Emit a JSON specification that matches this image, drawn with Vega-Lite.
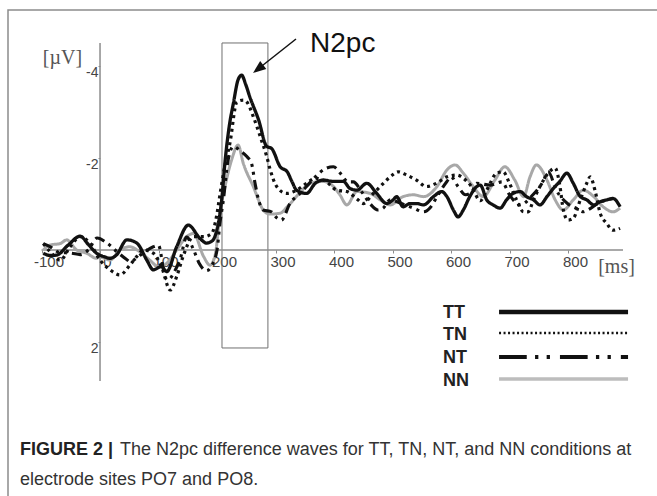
{
  "$schema": "https://vega.github.io/schema/vega-lite/v6.json",
  "width": 660,
  "height": 500,
  "autosize": {"type": "none"},
  "padding": {"left": 8, "top": 10, "right": 0, "bottom": 0},
  "background": "white",
  "config": {
    "font": "Liberation Sans",
    "view": {"stroke": "#8c8c8c", "strokeWidth": 1.5}
  },
  "datasets": {
    "one": [{}],
    "waves": [
      {"cond":"NN","ms":-97,"uv":0.0},{"cond":"NN","ms":-85,"uv":-0.11},{"cond":"NN","ms":-68,"uv":-0.14},{"cond":"NN","ms":-57,"uv":-0.22},{"cond":"NN","ms":-40,"uv":0.0},{"cond":"NN","ms":-23,"uv":0.07},{"cond":"NN","ms":-6,"uv":0.18},{"cond":"NN","ms":0,"uv":0.15},{"cond":"NN","ms":17,"uv":0.22},{"cond":"NN","ms":34,"uv":0.0},{"cond":"NN","ms":51,"uv":-0.07},{"cond":"NN","ms":68,"uv":0.04},{"cond":"NN","ms":85,"uv":0.22},{"cond":"NN","ms":100,"uv":0.36},{"cond":"NN","ms":114,"uv":0.29},{"cond":"NN","ms":131,"uv":0.0},{"cond":"NN","ms":148,"uv":-0.29},{"cond":"NN","ms":160,"uv":-0.36},{"cond":"NN","ms":177,"uv":0.14},{"cond":"NN","ms":188,"uv":0.33},{"cond":"NN","ms":197,"uv":0.1},{"cond":"NN","ms":205,"uv":-0.8},{"cond":"NN","ms":214,"uv":-1.4},{"cond":"NN","ms":225,"uv":-1.96},{"cond":"NN","ms":236,"uv":-2.28},{"cond":"NN","ms":245,"uv":-1.88},{"cond":"NN","ms":262,"uv":-1.38},{"cond":"NN","ms":279,"uv":-0.87},{"cond":"NN","ms":290,"uv":-0.78},{"cond":"NN","ms":308,"uv":-0.8},{"cond":"NN","ms":320,"uv":-0.94},{"cond":"NN","ms":342,"uv":-1.25},{"cond":"NN","ms":359,"uv":-1.45},{"cond":"NN","ms":382,"uv":-1.49},{"cond":"NN","ms":399,"uv":-1.38},{"cond":"NN","ms":410,"uv":-1.2},{"cond":"NN","ms":422,"uv":-0.98},{"cond":"NN","ms":439,"uv":-1.27},{"cond":"NN","ms":462,"uv":-1.23},{"cond":"NN","ms":479,"uv":-1.09},{"cond":"NN","ms":496,"uv":-0.98},{"cond":"NN","ms":518,"uv":-1.16},{"cond":"NN","ms":536,"uv":-1.2},{"cond":"NN","ms":553,"uv":-1.16},{"cond":"NN","ms":576,"uv":-1.38},{"cond":"NN","ms":593,"uv":-1.74},{"cond":"NN","ms":607,"uv":-1.85},{"cond":"NN","ms":621,"uv":-1.67},{"cond":"NN","ms":638,"uv":-1.38},{"cond":"NN","ms":655,"uv":-1.16},{"cond":"NN","ms":675,"uv":-1.52},{"cond":"NN","ms":692,"uv":-1.81},{"cond":"NN","ms":709,"uv":-1.52},{"cond":"NN","ms":724,"uv":-1.16},{"cond":"NN","ms":735,"uv":-1.59},{"cond":"NN","ms":746,"uv":-1.85},{"cond":"NN","ms":764,"uv":-1.52},{"cond":"NN","ms":778,"uv":-1.09},{"cond":"NN","ms":792,"uv":-0.87},{"cond":"NN","ms":809,"uv":-1.09},{"cond":"NN","ms":826,"uv":-1.3},{"cond":"NN","ms":844,"uv":-1.16},{"cond":"NN","ms":860,"uv":-0.94},{"cond":"NN","ms":877,"uv":-0.83},{"cond":"NN","ms":889,"uv":-0.91},
      {"cond":"NT","ms":-97,"uv":-0.14},{"cond":"NT","ms":-85,"uv":-0.07},{"cond":"NT","ms":-70,"uv":0.05},{"cond":"NT","ms":-48,"uv":0.07},{"cond":"NT","ms":-34,"uv":0.1},{"cond":"NT","ms":-20,"uv":0.0},{"cond":"NT","ms":-5,"uv":-0.26},{"cond":"NT","ms":12,"uv":-0.15},{"cond":"NT","ms":30,"uv":0.05},{"cond":"NT","ms":45,"uv":0.2},{"cond":"NT","ms":51,"uv":0.25},{"cond":"NT","ms":70,"uv":0.1},{"cond":"NT","ms":91,"uv":-0.07},{"cond":"NT","ms":100,"uv":-0.1},{"cond":"NT","ms":111,"uv":0.58},{"cond":"NT","ms":116,"uv":0.65},{"cond":"NT","ms":128,"uv":0.45},{"cond":"NT","ms":137,"uv":0.2},{"cond":"NT","ms":148,"uv":-0.28},{"cond":"NT","ms":160,"uv":0.0},{"cond":"NT","ms":170,"uv":0.3},{"cond":"NT","ms":182,"uv":0.45},{"cond":"NT","ms":190,"uv":0.36},{"cond":"NT","ms":200,"uv":0.0},{"cond":"NT","ms":205,"uv":-0.58},{"cond":"NT","ms":211,"uv":-1.1},{"cond":"NT","ms":219,"uv":-1.96},{"cond":"NT","ms":228,"uv":-2.25},{"cond":"NT","ms":240,"uv":-2.15},{"cond":"NT","ms":251,"uv":-2.03},{"cond":"NT","ms":259,"uv":-1.88},{"cond":"NT","ms":265,"uv":-1.45},{"cond":"NT","ms":271,"uv":-1.09},{"cond":"NT","ms":279,"uv":-0.87},{"cond":"NT","ms":293,"uv":-0.83},{"cond":"NT","ms":302,"uv":-0.7},{"cond":"NT","ms":310,"uv":-0.65},{"cond":"NT","ms":325,"uv":-1.02},{"cond":"NT","ms":342,"uv":-1.23},{"cond":"NT","ms":353,"uv":-1.38},{"cond":"NT","ms":368,"uv":-1.59},{"cond":"NT","ms":387,"uv":-1.78},{"cond":"NT","ms":399,"uv":-1.81},{"cond":"NT","ms":412,"uv":-1.65},{"cond":"NT","ms":424,"uv":-1.48},{"cond":"NT","ms":433,"uv":-1.48},{"cond":"NT","ms":447,"uv":-1.27},{"cond":"NT","ms":462,"uv":-1.0},{"cond":"NT","ms":475,"uv":-0.87},{"cond":"NT","ms":484,"uv":-0.91},{"cond":"NT","ms":496,"uv":-1.09},{"cond":"NT","ms":513,"uv":-1.02},{"cond":"NT","ms":536,"uv":-0.91},{"cond":"NT","ms":553,"uv":-0.83},{"cond":"NT","ms":565,"uv":-0.93},{"cond":"NT","ms":576,"uv":-1.16},{"cond":"NT","ms":593,"uv":-1.49},{"cond":"NT","ms":600,"uv":-1.59},{"cond":"NT","ms":612,"uv":-1.38},{"cond":"NT","ms":625,"uv":-1.2},{"cond":"NT","ms":636,"uv":-1.27},{"cond":"NT","ms":644,"uv":-1.45},{"cond":"NT","ms":667,"uv":-1.41},{"cond":"NT","ms":687,"uv":-1.48},{"cond":"NT","ms":700,"uv":-1.2},{"cond":"NT","ms":718,"uv":-0.98},{"cond":"NT","ms":740,"uv":-1.2},{"cond":"NT","ms":757,"uv":-1.48},{"cond":"NT","ms":766,"uv":-1.7},{"cond":"NT","ms":780,"uv":-1.3},{"cond":"NT","ms":800,"uv":-1.0},{"cond":"NT","ms":815,"uv":-0.9},{"cond":"NT","ms":826,"uv":-0.83},{"cond":"NT","ms":834,"uv":-0.87},{"cond":"NT","ms":850,"uv":-1.0},{"cond":"NT","ms":866,"uv":-1.09},{"cond":"NT","ms":883,"uv":-1.12},
      {"cond":"TN","ms":-97,"uv":-0.14},{"cond":"TN","ms":-85,"uv":0.04},{"cond":"TN","ms":-68,"uv":0.22},{"cond":"TN","ms":-51,"uv":-0.07},{"cond":"TN","ms":-34,"uv":-0.29},{"cond":"TN","ms":-17,"uv":-0.14},{"cond":"TN","ms":0,"uv":0.22},{"cond":"TN","ms":17,"uv":0.43},{"cond":"TN","ms":34,"uv":0.54},{"cond":"TN","ms":51,"uv":0.33},{"cond":"TN","ms":63,"uv":0.14},{"cond":"TN","ms":74,"uv":0.0},{"cond":"TN","ms":91,"uv":0.07},{"cond":"TN","ms":105,"uv":0.36},{"cond":"TN","ms":120,"uv":0.87},{"cond":"TN","ms":131,"uv":0.58},{"cond":"TN","ms":142,"uv":0.14},{"cond":"TN","ms":160,"uv":-0.29},{"cond":"TN","ms":177,"uv":-0.29},{"cond":"TN","ms":191,"uv":-0.36},{"cond":"TN","ms":199,"uv":-0.72},{"cond":"TN","ms":205,"uv":-1.2},{"cond":"TN","ms":213,"uv":-1.8},{"cond":"TN","ms":222,"uv":-2.32},{"cond":"TN","ms":234,"uv":-3.22},{"cond":"TN","ms":245,"uv":-3.26},{"cond":"TN","ms":252,"uv":-3.2},{"cond":"TN","ms":262,"uv":-2.9},{"cond":"TN","ms":274,"uv":-2.46},{"cond":"TN","ms":285,"uv":-2.03},{"cond":"TN","ms":291,"uv":-1.74},{"cond":"TN","ms":302,"uv":-1.38},{"cond":"TN","ms":319,"uv":-1.23},{"cond":"TN","ms":336,"uv":-1.3},{"cond":"TN","ms":353,"uv":-1.45},{"cond":"TN","ms":368,"uv":-1.56},{"cond":"TN","ms":385,"uv":-1.5},{"cond":"TN","ms":405,"uv":-1.3},{"cond":"TN","ms":422,"uv":-1.27},{"cond":"TN","ms":440,"uv":-1.1},{"cond":"TN","ms":450,"uv":-1.01},{"cond":"TN","ms":465,"uv":-1.2},{"cond":"TN","ms":479,"uv":-1.38},{"cond":"TN","ms":496,"uv":-1.59},{"cond":"TN","ms":510,"uv":-1.7},{"cond":"TN","ms":524,"uv":-1.63},{"cond":"TN","ms":541,"uv":-1.52},{"cond":"TN","ms":558,"uv":-1.38},{"cond":"TN","ms":575,"uv":-1.45},{"cond":"TN","ms":593,"uv":-1.59},{"cond":"TN","ms":610,"uv":-1.63},{"cond":"TN","ms":621,"uv":-1.56},{"cond":"TN","ms":635,"uv":-1.38},{"cond":"TN","ms":650,"uv":-1.07},{"cond":"TN","ms":661,"uv":-1.3},{"cond":"TN","ms":678,"uv":-1.67},{"cond":"TN","ms":689,"uv":-1.7},{"cond":"TN","ms":700,"uv":-1.45},{"cond":"TN","ms":712,"uv":-1.09},{"cond":"TN","ms":724,"uv":-0.83},{"cond":"TN","ms":732,"uv":-0.83},{"cond":"TN","ms":741,"uv":-1.09},{"cond":"TN","ms":752,"uv":-1.38},{"cond":"TN","ms":765,"uv":-1.65},{"cond":"TN","ms":778,"uv":-1.78},{"cond":"TN","ms":786,"uv":-1.4},{"cond":"TN","ms":792,"uv":-0.87},{"cond":"TN","ms":800,"uv":-0.65},{"cond":"TN","ms":809,"uv":-0.69},{"cond":"TN","ms":821,"uv":-1.09},{"cond":"TN","ms":832,"uv":-1.45},{"cond":"TN","ms":838,"uv":-1.59},{"cond":"TN","ms":846,"uv":-1.3},{"cond":"TN","ms":855,"uv":-0.8},{"cond":"TN","ms":866,"uv":-0.58},{"cond":"TN","ms":877,"uv":-0.43},{"cond":"TN","ms":889,"uv":-0.47},
      {"cond":"TT","ms":-97,"uv":0.07},{"cond":"TT","ms":-85,"uv":0.12},{"cond":"TT","ms":-74,"uv":0.11},{"cond":"TT","ms":-55,"uv":-0.1},{"cond":"TT","ms":-34,"uv":-0.3},{"cond":"TT","ms":-20,"uv":-0.12},{"cond":"TT","ms":-6,"uv":0.07},{"cond":"TT","ms":8,"uv":0.15},{"cond":"TT","ms":17,"uv":0.18},{"cond":"TT","ms":28,"uv":0.11},{"cond":"TT","ms":46,"uv":-0.22},{"cond":"TT","ms":63,"uv":-0.15},{"cond":"TT","ms":80,"uv":0.22},{"cond":"TT","ms":91,"uv":0.43},{"cond":"TT","ms":105,"uv":0.36},{"cond":"TT","ms":114,"uv":0.47},{"cond":"TT","ms":131,"uv":-0.07},{"cond":"TT","ms":151,"uv":-0.54},{"cond":"TT","ms":171,"uv":-0.25},{"cond":"TT","ms":182,"uv":-0.15},{"cond":"TT","ms":192,"uv":-0.2},{"cond":"TT","ms":199,"uv":-0.4},{"cond":"TT","ms":208,"uv":-1.09},{"cond":"TT","ms":214,"uv":-1.96},{"cond":"TT","ms":221,"uv":-2.7},{"cond":"TT","ms":228,"uv":-3.19},{"cond":"TT","ms":236,"uv":-3.7},{"cond":"TT","ms":242,"uv":-3.8},{"cond":"TT","ms":249,"uv":-3.6},{"cond":"TT","ms":256,"uv":-3.33},{"cond":"TT","ms":271,"uv":-2.83},{"cond":"TT","ms":285,"uv":-2.25},{"cond":"TT","ms":293,"uv":-2.21},{"cond":"TT","ms":308,"uv":-1.81},{"cond":"TT","ms":320,"uv":-1.7},{"cond":"TT","ms":328,"uv":-1.49},{"cond":"TT","ms":336,"uv":-1.3},{"cond":"TT","ms":353,"uv":-1.23},{"cond":"TT","ms":368,"uv":-1.45},{"cond":"TT","ms":382,"uv":-1.52},{"cond":"TT","ms":399,"uv":-1.49},{"cond":"TT","ms":416,"uv":-1.49},{"cond":"TT","ms":427,"uv":-1.34},{"cond":"TT","ms":439,"uv":-1.3},{"cond":"TT","ms":456,"uv":-1.45},{"cond":"TT","ms":473,"uv":-1.23},{"cond":"TT","ms":490,"uv":-1.01},{"cond":"TT","ms":501,"uv":-1.09},{"cond":"TT","ms":507,"uv":-1.16},{"cond":"TT","ms":518,"uv":-0.94},{"cond":"TT","ms":530,"uv":-1.01},{"cond":"TT","ms":541,"uv":-1.01},{"cond":"TT","ms":553,"uv":-0.98},{"cond":"TT","ms":570,"uv":-1.16},{"cond":"TT","ms":584,"uv":-1.27},{"cond":"TT","ms":593,"uv":-1.16},{"cond":"TT","ms":604,"uv":-0.87},{"cond":"TT","ms":612,"uv":-0.72},{"cond":"TT","ms":621,"uv":-0.87},{"cond":"TT","ms":632,"uv":-1.16},{"cond":"TT","ms":644,"uv":-1.38},{"cond":"TT","ms":650,"uv":-1.41},{"cond":"TT","ms":661,"uv":-1.09},{"cond":"TT","ms":672,"uv":-0.98},{"cond":"TT","ms":684,"uv":-0.91},{"cond":"TT","ms":695,"uv":-1.09},{"cond":"TT","ms":706,"uv":-1.23},{"cond":"TT","ms":718,"uv":-1.27},{"cond":"TT","ms":729,"uv":-1.16},{"cond":"TT","ms":741,"uv":-1.09},{"cond":"TT","ms":752,"uv":-0.98},{"cond":"TT","ms":764,"uv":-1.16},{"cond":"TT","ms":775,"uv":-1.34},{"cond":"TT","ms":786,"uv":-1.49},{"cond":"TT","ms":798,"uv":-1.67},{"cond":"TT","ms":809,"uv":-1.45},{"cond":"TT","ms":821,"uv":-1.16},{"cond":"TT","ms":832,"uv":-1.09},{"cond":"TT","ms":844,"uv":-0.98},{"cond":"TT","ms":855,"uv":-1.05},{"cond":"TT","ms":866,"uv":-1.09},{"cond":"TT","ms":877,"uv":-1.12},{"cond":"TT","ms":889,"uv":-0.94}
    ]
  },
  "layer": [
    {
      "data": {"name": "one"},
      "mark": {"type": "rect", "fillOpacity": 0, "stroke": "#707070", "strokeWidth": 1},
      "encoding": {
        "x": {
          "datum": 208.5, "type": "quantitative", "title": "[ms]",
          "scale": {"domain": [-157.3, 970.9], "nice": false, "zero": false},
          "axis": {
            "orient": "bottom", "offset": -260, "values": [-100, 0, 100, 200, 300, 400, 500, 600, 700, 800],
            "domain": false, "grid": false, "ticks": true, "tickSize": 3, "tickColor": "#8c8c8c",
            "labelFont": "Liberation Sans", "labelFontSize": 15, "labelColor": "#444444",
            "labelOffset": 7, "labelPadding": 1, "labelFlush": false, "labelOverlap": false,
            "labelExpr": "datum.value + ''",
            "titleX": 608, "titleY": 16, "titleAlign": "center", "titleBaseline": "middle",
            "titleFont": "Liberation Serif", "titleFontSize": 20, "titleFontWeight": "normal", "titleColor": "#555555"
          }
        },
        "x2": {"datum": 287},
        "y": {
          "datum": -4.5, "type": "quantitative", "title": "[µV]",
          "scale": {"domain": [-5.217, 5.652], "reverse": true, "nice": false, "zero": false},
          "axis": {
            "orient": "left", "offset": -92, "values": [-4, -2, 2],
            "domain": false, "grid": false, "ticks": true, "tickSize": 2, "tickColor": "#8c8c8c",
            "labelFont": "Liberation Sans", "labelFontSize": 14, "labelColor": "#444444",
            "labelOffset": 7, "labelPadding": 0, "labelFlush": false, "labelOverlap": false,
            "labelExpr": "datum.value + ''",
            "titleAngle": 0, "titleX": -38, "titleY": 47, "titleAlign": "center", "titleBaseline": "middle",
            "titleFont": "Liberation Serif", "titleFontSize": 20, "titleFontWeight": "normal", "titleColor": "#555555"
          }
        },
        "y2": {"datum": 2.13}
      }
    },
    {
      "data": {"name": "one"},
      "mark": {"type": "rule", "stroke": "#8c8c8c", "strokeWidth": 1.5},
      "encoding": {
        "x": {"datum": -100, "type": "quantitative", "title": "[ms]"},
        "x2": {"datum": 894},
        "y": {"datum": 0, "type": "quantitative", "title": "[µV]"}
      }
    },
    {
      "data": {"name": "one"},
      "mark": {"type": "rule", "stroke": "#8c8c8c", "strokeWidth": 1.5},
      "encoding": {
        "x": {"datum": 0, "type": "quantitative", "title": "[ms]"},
        "y": {"datum": -4.5, "type": "quantitative", "title": "[µV]"},
        "y2": {"datum": 2.85}
      }
    },
    {
      "data": {"name": "waves"},
      "mark": {"type": "line", "interpolate": "monotone"},
      "encoding": {
        "x": {"field": "ms", "type": "quantitative", "title": "[ms]"},
        "y": {"field": "uv", "type": "quantitative", "title": "[µV]"},
        "color": {
          "field": "cond", "type": "nominal", "legend": null,
          "scale": {"domain": ["TT", "TN", "NT", "NN"], "range": ["#111111", "#111111", "#111111", "#a8a8a8"]}
        },
        "strokeDash": {
          "field": "cond", "type": "nominal", "legend": null,
          "scale": {"domain": ["TT", "TN", "NT", "NN"], "range": [[1, 0], [3, 3.8], [10, 5, 3, 5, 3, 5], [1, 0]]}
        },
        "strokeWidth": {
          "field": "cond", "type": "nominal", "legend": null,
          "scale": {"domain": ["TT", "TN", "NT", "NN"], "range": [3.3, 3, 3, 3]}
        }
      }
    },
    {
      "data": {"name": "one"},
      "mark": {"type": "rule", "stroke": "#111111", "strokeWidth": 1.5},
      "encoding": {
        "x": {"datum": 335, "type": "quantitative", "title": "[ms]"},
        "x2": {"datum": 271.8},
        "y": {"datum": -4.587, "type": "quantitative", "title": "[µV]"},
        "y2": {"datum": -3.95}
      }
    },
    {
      "data": {"name": "one"},
      "mark": {"type": "point", "shape": "M0,-1L0.65,0.7L-0.65,0.7Z", "filled": true, "fill": "#111111", "opacity": 1, "size": 231, "angle": 232},
      "encoding": {
        "x": {"datum": 271.8, "type": "quantitative", "title": "[ms]"},
        "y": {"datum": -3.95, "type": "quantitative", "title": "[µV]"}
      }
    },
    {
      "data": {"name": "one"},
      "mark": {"type": "text", "text": "N2pc", "align": "left", "baseline": "alphabetic", "font": "Liberation Sans", "fontSize": 28, "fill": "#111111"},
      "encoding": {
        "x": {"datum": 359, "type": "quantitative", "title": "[ms]"},
        "y": {"datum": -4.3, "type": "quantitative", "title": "[µV]"}
      }
    },
    {
      "data": {"name": "one"},
      "mark": {"type": "text", "text": "TT", "align": "left", "baseline": "alphabetic", "font": "Liberation Sans", "fontSize": 18, "fontWeight": "bold", "fill": "#222222"},
      "encoding": {
        "x": {"datum": 586.3, "type": "quantitative", "title": "[ms]"},
        "y": {"datum": 1.489, "type": "quantitative", "title": "[µV]"}
      }
    },
    {
      "data": {"name": "one"},
      "mark": {"type": "text", "text": "TN", "align": "left", "baseline": "alphabetic", "font": "Liberation Sans", "fontSize": 18, "fontWeight": "bold", "fill": "#222222"},
      "encoding": {
        "x": {"datum": 586.3, "type": "quantitative", "title": "[ms]"},
        "y": {"datum": 1.946, "type": "quantitative", "title": "[µV]"}
      }
    },
    {
      "data": {"name": "one"},
      "mark": {"type": "text", "text": "NT", "align": "left", "baseline": "alphabetic", "font": "Liberation Sans", "fontSize": 18, "fontWeight": "bold", "fill": "#222222"},
      "encoding": {
        "x": {"datum": 586.3, "type": "quantitative", "title": "[ms]"},
        "y": {"datum": 2.467, "type": "quantitative", "title": "[µV]"}
      }
    },
    {
      "data": {"name": "one"},
      "mark": {"type": "text", "text": "NN", "align": "left", "baseline": "alphabetic", "font": "Liberation Sans", "fontSize": 18, "fontWeight": "bold", "fill": "#222222"},
      "encoding": {
        "x": {"datum": 586.3, "type": "quantitative", "title": "[ms]"},
        "y": {"datum": 2.946, "type": "quantitative", "title": "[µV]"}
      }
    },
    {
      "data": {"name": "one"},
      "mark": {"type": "rule", "stroke": "#111111", "strokeWidth": 4.5},
      "encoding": {
        "x": {"datum": 682.1, "type": "quantitative", "title": "[ms]"},
        "x2": {"datum": 902.6},
        "y": {"datum": 1.348, "type": "quantitative", "title": "[µV]"}
      }
    },
    {
      "data": {"name": "one"},
      "mark": {"type": "rule", "stroke": "#111111", "strokeWidth": 2.5, "strokeDash": [2, 2.5]},
      "encoding": {
        "x": {"datum": 682.1, "type": "quantitative", "title": "[ms]"},
        "x2": {"datum": 902.6},
        "y": {"datum": 1.804, "type": "quantitative", "title": "[µV]"}
      }
    },
    {
      "data": {"name": "one"},
      "mark": {"type": "rule", "stroke": "#111111", "strokeWidth": 4, "strokeDash": [27.7, 8.3, 3.3, 8.3, 3.3, 10]},
      "encoding": {
        "x": {"datum": 682.1, "type": "quantitative", "title": "[ms]"},
        "x2": {"datum": 902.6},
        "y": {"datum": 2.326, "type": "quantitative", "title": "[µV]"}
      }
    },
    {
      "data": {"name": "one"},
      "mark": {"type": "rule", "stroke": "#bdbdbd", "strokeWidth": 3.5},
      "encoding": {
        "x": {"datum": 682.1, "type": "quantitative", "title": "[ms]"},
        "x2": {"datum": 902.6},
        "y": {"datum": 2.804, "type": "quantitative", "title": "[µV]"}
      }
    },
    {
      "data": {"name": "one"},
      "mark": {"type": "text", "text": "FIGURE 2 |", "align": "left", "baseline": "alphabetic", "font": "Liberation Sans", "fontSize": 18, "fontWeight": "bold", "fill": "#222222"},
      "encoding": {
        "x": {"datum": -136.75, "type": "quantitative", "title": "[ms]"},
        "y": {"datum": 4.446, "type": "quantitative", "title": "[µV]"}
      }
    },
    {
      "data": {"name": "one"},
      "mark": {"type": "text", "text": "The N2pc difference waves for TT, TN, NT, and NN conditions at", "align": "left", "baseline": "alphabetic", "font": "Liberation Sans", "fontSize": 18, "fill": "#333333"},
      "encoding": {
        "x": {"datum": 34.2, "type": "quantitative", "title": "[ms]"},
        "y": {"datum": 4.446, "type": "quantitative", "title": "[µV]"}
      }
    },
    {
      "data": {"name": "one"},
      "mark": {"type": "text", "text": "electrode sites PO7 and PO8.", "align": "left", "baseline": "alphabetic", "font": "Liberation Sans", "fontSize": 18, "fill": "#333333"},
      "encoding": {
        "x": {"datum": -136.75, "type": "quantitative", "title": "[ms]"},
        "y": {"datum": 5.098, "type": "quantitative", "title": "[µV]"}
      }
    }
  ]
}
